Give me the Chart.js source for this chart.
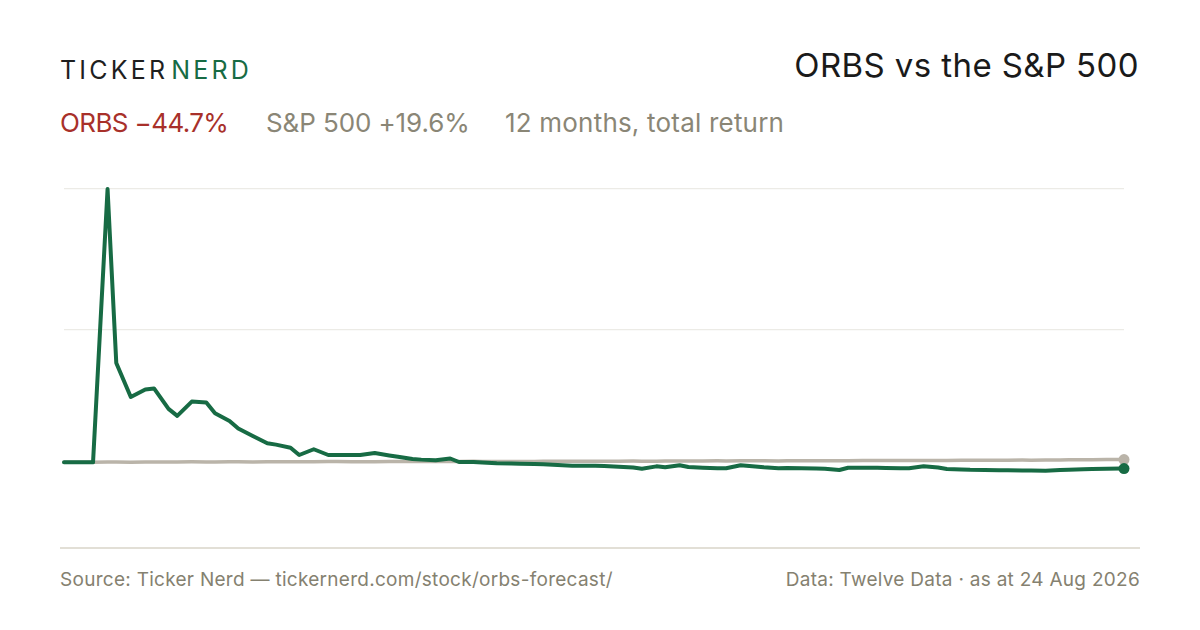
<!DOCTYPE html>
<html>
<head>
<meta charset="utf-8">
<script src="https://cdn.jsdelivr.net/npm/chart.js@4.4.1/dist/chart.umd.min.js"></script>
<style>
  html, body { margin: 0; padding: 0; background: #ffffff; }
  body { width: 1200px; height: 630px; position: relative; overflow: hidden; font-family: Inter, "Liberation Sans", sans-serif; }
  .brand { position: absolute; left: 60px; top: 55px; font-size: 25px; letter-spacing: 3.2px; color: #1f1f1f; line-height: 30px; font-weight: 400; white-space: nowrap; }
  .brand span { color: #176b44; margin-left: 3px; }
  .title { position: absolute; right: 61px; top: 46px; font-size: 33px; letter-spacing: 0.4px; color: #1a1a1a; line-height: 38px; font-weight: 400; white-space: nowrap; }
  .sub { position: absolute; top: 108px; font-size: 26px; line-height: 30px; white-space: nowrap; }
  .foot { position: absolute; top: 569px; font-size: 19px; letter-spacing: 0.28px; color: #858170; line-height: 22px; white-space: nowrap; }
  .rule { position: absolute; left: 60px; width: 1080px; top: 547px; height: 1.5px; background: #e2dfd6; }
  #wrap { position: absolute; left: 54px; top: 179px; width: 1080px; height: 370px; }
</style>
</head>
<body>
<div class="brand">TICKER<span>NERD</span></div>
<div class="title">ORBS vs the S&amp;P 500</div>
<div class="sub" style="left:60px;color:#a8302a;letter-spacing:-0.6px;">ORBS −44.7%</div>
<div class="sub" style="left:266px;color:#8a8676;letter-spacing:-0.1px;">S&amp;P 500 +19.6%</div>
<div class="sub" style="left:505px;color:#8a8676;letter-spacing:0.2px;">12 months, total return</div>
<div class="rule"></div>
<div class="foot" style="left:60px;">Source: Ticker Nerd — tickernerd.com/stock/orbs-forecast/</div>
<div class="foot" style="right:60px;">Data: Twelve Data · as at 24 Aug 2026</div>
<div id="wrap"><canvas id="c"></canvas></div>
<script>
// Days since start of the 12-month window (sampled trading days)
const days = [0, 2, 7, 10, 15, 18, 23, 28, 31, 36, 39, 44, 49, 52, 57, 60, 65, 70, 73, 78,
  81, 86, 91, 94, 99, 102, 107, 112, 115, 120, 123, 128, 133, 136, 141, 144, 149, 154, 157, 162,
  165, 170, 175, 178, 183, 186, 191, 196, 199, 204, 207, 212, 215, 220, 225, 228, 233, 238, 241, 246,
  249, 254, 259, 262, 267, 270, 275, 280, 283, 288, 291, 296, 301, 304, 309, 312, 317, 322, 325, 330,
  333, 338, 343, 346, 351, 354, 359, 364, 365];

// ORBS total return, % since start
const orbs = [0, 0, 0, 0, 1950, 709, 466, 520, 527, 381, 331, 433, 426, 350, 295, 241, 188, 136, 126, 104,
  52, 93, 52, 52, 52, 52, 66, 49, 39, 24, 19, 14, 27, 2, 2, -1, -7, -9, -10, -12,
  -14, -19, -24, -24, -24, -26, -31, -37, -46, -29, -36, -21, -34, -39, -42, -43, -21, -30, -36, -43,
  -41, -43, -44, -46, -55, -39, -39, -39, -40, -42, -43, -29, -37, -48, -52, -54, -55, -56, -57, -59,
  -59, -60, -55, -53, -49, -48, -46, -44, -44.7];

// S&P 500 total return, % since start
const spx = [0, 0.4, 0.9, 0.6, 1.2, 1.5, 1.1, 1.8, 2.3, 2.0, 2.6, 3.1, 2.4, 2.9, 3.5, 3.2, 2.8, 3.6, 4.1, 3.7,
  4.4, 4.0, 4.8, 5.2, 4.6, 3.9, 4.5, 5.3, 5.8, 5.1, 5.6, 6.2, 5.7, 6.4, 6.9, 6.1, 5.4, 4.8, 5.5, 6.3,
  6.8, 7.4, 6.9, 7.6, 8.1, 7.5, 8.3, 8.9, 8.2, 7.6, 8.4, 9.1, 8.7, 9.5, 10.2, 9.6, 10.4, 11.0, 10.3, 9.7,
  10.5, 11.2, 11.8, 11.1, 10.6, 11.4, 12.1, 12.7, 12.0, 12.8, 13.4, 12.9, 12.3, 13.1, 13.8, 14.4, 13.9, 14.6, 15.3, 15.9,
  15.2, 16.0, 16.7, 17.3, 18.0, 18.6, 19.1, 19.4, 19.6];

// Gridline values
const gridValues = [950, 1950];

const GREEN = '#176b44';
const GREY = '#bab4a9';

const toPts = (arr) => arr.map((v, i) => ({ x: days[i], y: v }));
const lastOnly = (r) => (ctx) => ctx.dataIndex === days.length - 1 ? r : 0;

new Chart(document.getElementById('c'), {
  type: 'line',
  data: {
    datasets: [
      { label: 'ORBS', data: toPts(orbs), borderColor: GREEN, backgroundColor: GREEN, borderWidth: 4,
        pointRadius: lastOnly(5.5), pointBackgroundColor: GREEN, pointBorderWidth: 0, tension: 0,
        borderJoinStyle: 'round', borderCapStyle: 'round', order: 0, clip: false },
      { label: 'S&P 500', data: toPts(spx), borderColor: GREY, backgroundColor: GREY, borderWidth: 3.5,
        pointRadius: lastOnly(5.5), pointBackgroundColor: GREY, pointBorderWidth: 0, tension: 0,
        borderJoinStyle: 'round', borderCapStyle: 'round', order: 1, clip: false }
    ]
  },
  options: {
    responsive: true,
    maintainAspectRatio: false,
    animation: false,
    events: [],
    layout: { padding: { left: 10, right: 10, top: 10, bottom: 20 } },
    plugins: { legend: { display: false }, tooltip: { enabled: false } },
    scales: {
      x: { type: 'linear', min: days[0], max: days[days.length - 1], display: false },
      y: {
        type: 'linear', min: -476, max: 1950,
        border: { display: false },
        grid: { color: '#ecebe6', lineWidth: 1.2, drawTicks: false },
        ticks: { display: false },
        afterBuildTicks: (axis) => { axis.ticks = gridValues.map(v => ({ value: v })); }
      }
    }
  }
});
</script>
</body>
</html>
